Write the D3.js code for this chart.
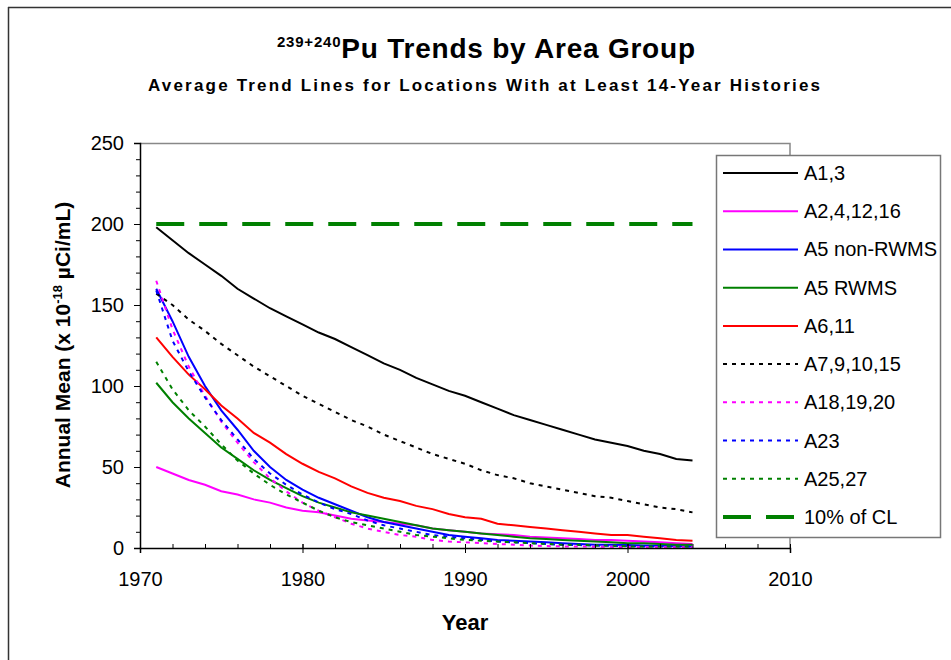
<!DOCTYPE html>
<html>
<head>
<meta charset="utf-8">
<script src="https://cdn.jsdelivr.net/npm/d3@7"></script>
<style>
  body { margin: 0; background: white; }
  text { font-family: "Liberation Sans", Arial, sans-serif; }
</style>
</head>
<body>
<svg id="chart" width="951" height="660"></svg>
<script>
const years = d3.range(1971, 2005);

const a13 = [198, 190, 182, 175, 168, 160, 154, 148, 143, 138, 133, 129, 124, 119, 114, 110, 105, 101, 97, 94,
    90, 86, 82, 79, 76, 73, 70, 67, 65, 63, 60, 58, 55, 54];
const a241216 = [50, 46, 42, 39, 35, 33, 30, 28, 25, 23, 22, 20, 18, 17, 16, 15, 14, 12, 11, 10,
    9, 8.5, 8, 7, 6.5, 6, 5.5, 5, 5, 4.5, 4, 3.5, 3, 2.5];
const a5non = [160, 140, 118, 100, 85, 73, 60, 50, 42, 36, 31, 27, 23, 19, 16, 14, 12, 10, 8, 7,
    6, 5, 4.5, 4, 3.5, 3, 2.5, 2, 2, 1.8, 1.6, 1.4, 1.2, 1];
const a5rwms = [102, 90, 80, 71, 62, 55, 48, 42, 37, 32, 28, 25, 22, 20, 18, 16, 14, 12, 11, 10,
    9, 8, 7, 6, 5.5, 5, 4.5, 4, 3.5, 3, 3, 2.5, 2, 2];
const a611 = [130, 118, 107, 98, 88, 80, 71, 65, 58, 52, 47, 43, 38, 34, 31, 29, 26, 24, 21, 19,
    18, 15, 14, 13, 12, 11, 10, 9, 8, 8, 7, 6, 5, 4.5];
const a791015 = [157, 150, 141, 134, 126, 119, 112, 106, 100, 94, 89, 84, 79, 75, 70, 66, 62, 58, 55, 52,
    48, 45, 43, 40, 38, 36, 34, 32, 31, 29, 27, 25, 24, 22];
const a181920 = [165, 135, 112, 94, 78, 65, 53, 43, 35, 28, 23, 19, 15, 12, 10, 8, 7, 5, 4, 3.5,
    3, 2.5, 2, 1.5, 1.2, 1, 1, 0.8, 0.7, 0.6, 0.5, 0.5, 0.5, 0.5];
const a23 = [159, 128, 109, 93, 79, 67, 55, 46, 39, 33, 28, 24, 21, 17, 14, 12, 10, 8, 7, 6,
    5, 4, 3.5, 3, 2.5, 2, 1.8, 1.5, 1.3, 1.2, 1, 1, 1, 1];
const a2527 = [115, 98, 85, 75, 64, 54, 46, 39, 33, 28, 23, 19, 16, 14, 12, 10, 8, 7, 6, 5,
    4.5, 4, 3.5, 3, 2.5, 2, 2, 1.5, 1.5, 1, 1, 1, 1, 1];
const cl10 = years.map(() => 200);

const seriesNames = ["A1,3", "A2,4,12,16", "A5 non-RWMS", "A5 RWMS", "A6,11",
    "A7,9,10,15", "A18,19,20", "A23", "A25,27", "10% of CL"];
const seriesValues = [a13, a241216, a5non, a5rwms, a611, a791015, a181920, a23, a2527, cl10];
const seriesColors = ["#000000", "#ff00ff", "#0000ff", "#008000", "#ff0000",
    "#000000", "#ff00ff", "#0000ff", "#008000", "#008000"];
const seriesStyle = ["solid", "solid", "solid", "solid", "solid",
    "dot", "dot", "dot", "dot", "dash"];

const xTicks = [1970, 1980, 1990, 2000, 2010];
const yTicks = [0, 50, 100, 150, 200, 250];

const svg = d3.select("#chart");
const margin = { top: 143, left: 140 };
const chartWidth = 650;
const chartHeight = 405;

// outer frame (top and left only visible)
svg.append("line").attr("x1", 8).attr("y1", 7.5).attr("x2", 951).attr("y2", 7.5)
    .attr("stroke", "#333").attr("stroke-width", 1.5);
svg.append("line").attr("x1", 8.5).attr("y1", 7).attr("x2", 8.5).attr("y2", 660)
    .attr("stroke", "#333").attr("stroke-width", 1.5);

// titles
const title = svg.append("text")
    .attr("x", 277).attr("y", 58)
    .attr("font-weight", "bold");
title.append("tspan").attr("font-size", 15).attr("dy", -11).text("239+240");
title.append("tspan").attr("font-size", 28).attr("dy", 11).text("Pu Trends by Area Group");
title.attr("textLength", 418).attr("lengthAdjust", "spacing");

svg.append("text")
    .attr("x", 148).attr("y", 91)
    .attr("font-size", 17).attr("font-weight", "bold")
    .attr("textLength", 672).attr("lengthAdjust", "spacing")
    .text("Average Trend Lines for Locations With at Least 14-Year Histories");

const chartArea = svg.append("g")
    .attr("transform", `translate(${margin.left},${margin.top})`);

const xScale = d3.scaleLinear().domain([1970, 2010]).range([0, chartWidth]);
const yScale = d3.scaleLinear().domain([0, 250]).range([chartHeight, 0]);

// plot frame
chartArea.append("path")
    .attr("d", `M0,0.5H${chartWidth}V${chartHeight}`)
    .attr("fill", "none").attr("stroke", "#888").attr("stroke-width", 1.5);

// series
const lineGen = d3.line()
    .x((d, i) => xScale(years[i]))
    .y(d => yScale(d));

function dashFor(style) {
    if (style === "dot") return "4,5";
    if (style === "dash") return "28,15";
    return null;
}

seriesValues.forEach((vals, k) => {
    chartArea.append("path")
        .datum(vals)
        .attr("fill", "none")
        .attr("stroke", seriesColors[k])
        .attr("stroke-width", seriesStyle[k] === "dash" ? 4 : 2)
        .attr("stroke-dasharray", dashFor(seriesStyle[k]))
        .attr("d", lineGen);
});

// axes
const xMinor = d3.axisBottom(xScale).tickValues(d3.range(1970, 2011, 2))
    .tickSize(-4).tickFormat("");
chartArea.append("g").attr("transform", `translate(0,${chartHeight})`).call(xMinor)
    .call(g => g.select(".domain").remove());
const xAxis = d3.axisBottom(xScale).tickValues(xTicks).tickSize(5).tickPadding(19)
    .tickFormat(d3.format("d"));
const gx = chartArea.append("g").attr("transform", `translate(0,${chartHeight})`).call(xAxis);
gx.selectAll(".tick line").attr("y1", -4);
gx.selectAll("text").attr("font-size", 20).attr("fill", "#000");
gx.select(".domain").attr("stroke-width", 1.5);

const yMinor = d3.axisLeft(yScale).tickValues(d3.range(0, 251, 10)).tickSize(4).tickFormat("");
chartArea.append("g").call(yMinor).call(g => g.select(".domain").remove());
const yAxis = d3.axisLeft(yScale).tickValues(yTicks).tickSize(6).tickPadding(10);
const gy = chartArea.append("g").call(yAxis);
gy.selectAll("text").attr("font-size", 20).attr("fill", "#000");
gy.select(".domain").attr("stroke-width", 1.5);

// axis titles
svg.append("text")
    .attr("x", 465).attr("y", 630)
    .attr("text-anchor", "middle")
    .attr("font-size", 22).attr("font-weight", "bold")
    .text("Year");

const yTitle = svg.append("text")
    .attr("transform", "translate(70,345) rotate(-90)")
    .attr("text-anchor", "middle")
    .attr("font-size", 21).attr("font-weight", "bold");
yTitle.append("tspan").text("Annual Mean (x 10");
yTitle.append("tspan").attr("font-size", 13).attr("dy", -8).text("-18");
yTitle.append("tspan").attr("dy", 8).text(" µCi/mL)");

// legend
const legend = svg.append("g").attr("transform", "translate(716,155)");
legend.append("rect")
    .attr("x", 0.5).attr("y", 0.5).attr("width", 224).attr("height", 382)
    .attr("fill", "white").attr("stroke", "#777").attr("stroke-width", 1.5);

const rowScale = d3.scalePoint().domain(seriesNames).range([18, 362]);
seriesNames.forEach((name, k) => {
    const y = rowScale(name);
    legend.append("line")
        .attr("x1", 7).attr("x2", 82).attr("y1", y).attr("y2", y)
        .attr("stroke", seriesColors[k])
        .attr("stroke-width", seriesStyle[k] === "dash" ? 4 : 2)
        .attr("stroke-dasharray", dashFor(seriesStyle[k]));
    legend.append("text")
        .attr("x", 88).attr("y", y + 7)
        .attr("font-size", 20)
        .text(name);
});
</script>
</body>
</html>
